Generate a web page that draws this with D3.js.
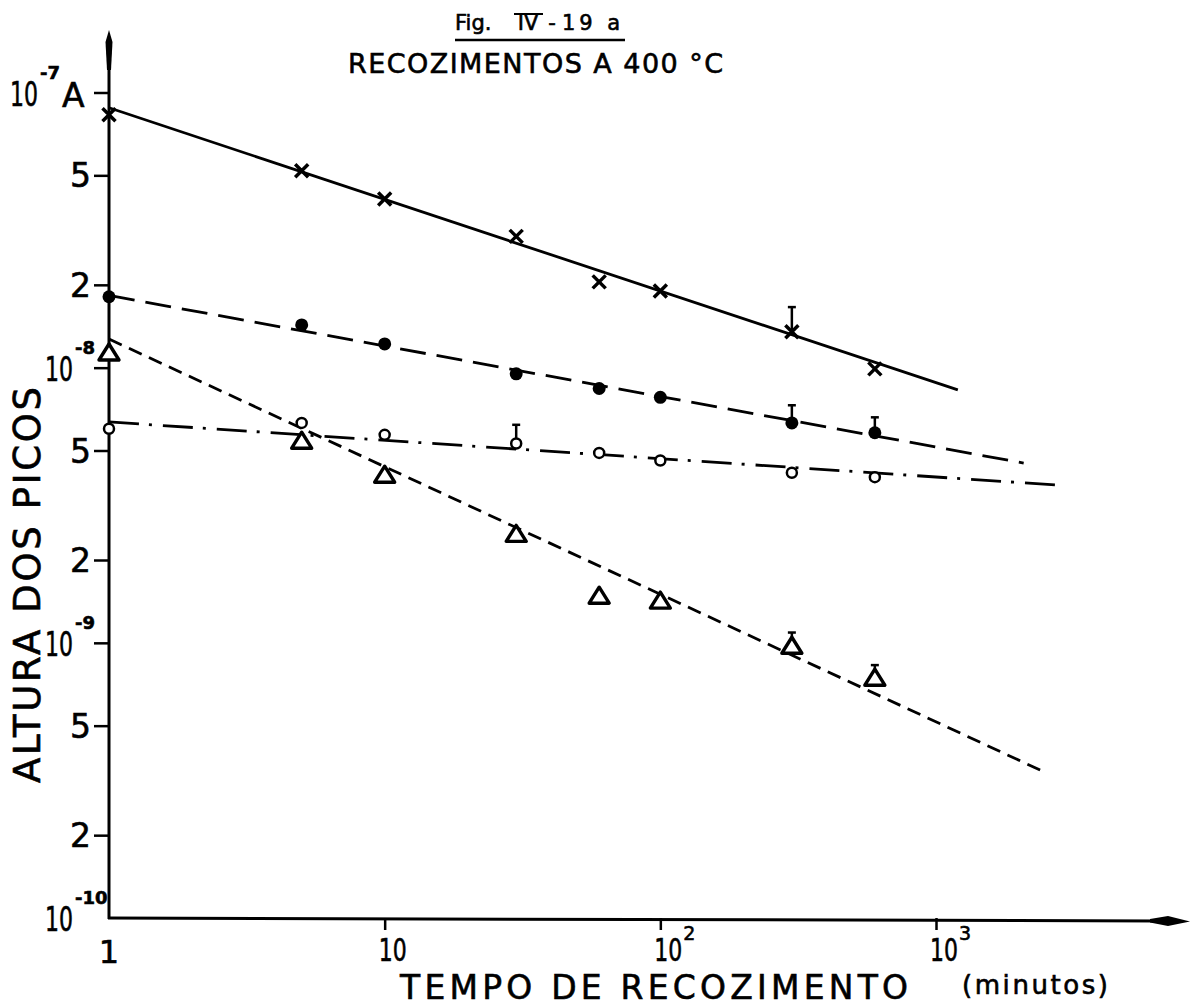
<!DOCTYPE html>
<html>
<head>
<meta charset="utf-8">
<script src="https://cdn.jsdelivr.net/npm/d3@7"></script>
<style>
  body { margin: 0; background: #fff; }
  svg { display: block; background: #fff; }
  text { font-family: "DejaVu Sans", sans-serif; fill: #000; stroke: #000; stroke-width: 0.6; }
</style>
</head>
<body>
<svg id="chart" width="1197" height="1006"></svg>
<script>
// Annealing time (minutes)
const times = [1, 5, 10, 30, 60, 100, 300, 600];

// Peak heights (A) for the four peaks
const crossValues    = [8.3e-8, 5.2e-8, 4.1e-8, 3.0e-8, 2.05e-8, 1.9e-8, 1.35e-8, 9.9e-9];
const dotValues      = [1.81e-8, 1.43e-8, 1.22e-8, 9.5e-9, 8.4e-9, 7.8e-9, 6.3e-9, 5.8e-9];
const circleValues   = [6.0e-9, 6.3e-9, 5.7e-9, 5.3e-9, 4.9e-9, 4.6e-9, 4.15e-9, 4.0e-9];
const triangleValues = [1.14e-8, 5.45e-9, 4.1e-9, 2.5e-9, 1.49e-9, 1.43e-9, 9.8e-10, 7.5e-10];

// Fitted straight lines (start and end points, time / height)
const crossFit    = [[1, 8.8e-8], [1200, 8.3e-9]];
const dotFit      = [[1, 1.83e-8], [2080, 4.5e-9]];
const circleFit   = [[1, 6.35e-9], [2800, 3.74e-9]];
const triangleFit = [[1, 1.27e-8], [2415, 3.43e-10]];

// Upper ends of the error bars (time, height)
const crossErr    = [[300, 1.66e-8]];
const dotErr      = [[300, 7.3e-9], [600, 6.6e-9]];
const circleErr   = [[30, 6.2e-9]];
const triangleErr = [[300, 1.09e-9], [600, 8.3e-10]];

// Axis ticks and labels
const yTicks     = [1e-7, 5e-8, 2e-8, 1e-8, 5e-9, 2e-9, 1e-9, 5e-10, 2e-10, 1e-10];
const yTickBase  = ["10", "5", "2", "10", "5", "2", "10", "5", "2", "10"];
const yTickSup   = ["-7", "", "", "-8", "", "", "-9", "", "", "-10"];
const yTickUnit  = ["A", "", "", "", "", "", "", "", "", ""];
const xTicks     = [1, 10, 100, 1000];
const xTickBase  = ["1", "10", "10", "10"];
const xTickSup   = ["", "", "2", "3"];

const svg = d3.select("#chart");
const x = d3.scaleLog().domain([1, 1000]).range([109, 936]);
const y = d3.scaleLog().domain([1e-10, 1e-7]).range([918, 92.5]);

const x0 = x(1), y0 = y(1e-10);

// ---- axes ----
svg.append("line").attr("x1", x0).attr("y1", y0 + 1).attr("x2", x0).attr("y2", 45)
  .attr("stroke", "#000").attr("stroke-width", 3);
svg.append("line").attr("x1", x0 - 1).attr("y1", y0).attr("x2", 1160).attr("y2", y0 + 3)
  .attr("stroke", "#000").attr("stroke-width", 3);
// arrow heads
svg.append("path")
  .attr("d", `M${x0},30 L${x0 + 3.5},42 L${x0 + 2},70 L${x0 - 2},70 L${x0 - 3.5},42 Z`)
  .attr("fill", "#000");
svg.append("path")
  .attr("d", `M1190,${y0 + 3.5} L1168,${y0 - 2} L1150,${y0 + 1} L1150,${y0 + 4.5} L1168,${y0 + 8} Z`)
  .attr("fill", "#000");

const yAxis = svg.append("g").attr("transform", `translate(${x0},0)`)
  .call(d3.axisLeft(y).tickValues(yTicks.slice(0, -1)).tickSize(15).tickFormat(""));
yAxis.select(".domain").remove();
yAxis.selectAll(".tick line").attr("stroke", "#000").attr("stroke-width", 2.5);

const xAxis = svg.append("g").attr("transform", `translate(0,${y0})`)
  .call(d3.axisBottom(x).tickValues(xTicks.slice(1)).tickSize(12).tickFormat(""));
xAxis.select(".domain").remove();
xAxis.selectAll(".tick line").attr("stroke", "#000").attr("stroke-width", 2.5);

// ---- y tick labels (powers of ten written with superscript exponents) ----
yTicks.forEach((v, i) => {
  const ty = y(v);
  if (yTickSup[i] === "") {
    svg.append("text").attr("x", 91).attr("y", ty + 12)
      .attr("text-anchor", "end").attr("font-size", 33).text(yTickBase[i]);
  } else {
    const bx = yTickUnit[i] ? 10 : 45;
    const t = svg.append("text").attr("x", bx).attr("y", ty + 13).attr("font-size", 33);
    t.append("tspan").attr("textLength", 28).attr("lengthAdjust", "spacingAndGlyphs")
      .text(yTickBase[i]);
    t.append("tspan").attr("dx", 2).attr("dy", -27).attr("font-size", 18)
      .attr("font-weight", "bold").text(yTickSup[i]);
    if (yTickUnit[i]) {
      t.append("tspan").attr("x", 62).attr("dy", 28).text(yTickUnit[i]);
    }
  }
});

// ---- x tick labels ----
xTicks.forEach((v, i) => {
  const tx = x(v);
  if (xTickBase[i] === "1") {
    svg.append("text").attr("x", tx).attr("y", 963).attr("text-anchor", "middle")
      .attr("font-size", 32).text(xTickBase[i]);
  } else {
    const t = svg.append("text").attr("x", tx - 6).attr("y", 961).attr("font-size", 32);
    t.append("tspan").attr("textLength", 28).attr("lengthAdjust", "spacingAndGlyphs")
      .text(xTickBase[i]);
    if (xTickSup[i]) {
      t.append("tspan").attr("dx", 1).attr("dy", -21).attr("font-size", 19).text(xTickSup[i]);
    }
  }
});

// ---- titles ----
svg.append("text").attr("x", 400).attr("y", 999).attr("font-size", 33)
  .attr("textLength", 508).text("TEMPO DE RECOZIMENTO");
svg.append("text").attr("x", 962).attr("y", 994).attr("font-size", 26)
  .attr("textLength", 146).text("(minutos)");
svg.append("text").attr("transform", "translate(40,783) rotate(-90)")
  .attr("font-size", 37).attr("textLength", 396).text("ALTURA DOS PICOS");

svg.append("text").attr("x", 455).attr("y", 30).attr("font-size", 21).text("Fig.");
svg.append("text").attr("x", 528).attr("y", 30).attr("font-size", 21).attr("text-anchor", "middle").text("IV");
svg.append("text").attr("x", 552).attr("y", 30).attr("font-size", 21).attr("text-anchor", "middle").text("-");
svg.append("text").attr("x", 562).attr("y", 30).attr("font-size", 21).attr("textLength", 58).text("19 a");
svg.append("line").attr("x1", 514).attr("x2", 543).attr("y1", 14).attr("y2", 14)
  .attr("stroke", "#000").attr("stroke-width", 2);
svg.append("line").attr("x1", 455).attr("x2", 625).attr("y1", 40).attr("y2", 40)
  .attr("stroke", "#000").attr("stroke-width", 2.5);
svg.append("text").attr("x", 348).attr("y", 73).attr("font-size", 27)
  .attr("textLength", 375).text("RECOZIMENTOS A 400 °C");

// ---- fitted lines ----
const line = d3.line().x(d => x(d[0])).y(d => y(d[1]));
const fits = [
  { data: crossFit, dash: null },
  { data: dotFit, dash: "26,11" },
  { data: circleFit, dash: "30,10,3,11" },
  { data: triangleFit, dash: "14,8" }
];
fits.forEach(f => {
  svg.append("path").attr("d", line(f.data)).attr("fill", "none")
    .attr("stroke", "#000").attr("stroke-width", 2.8)
    .attr("stroke-dasharray", f.dash);
});

// ---- error bars ----
function errorBars(list, values) {
  list.forEach(([t, top]) => {
    const v = values[times.indexOf(t)];
    const px = x(t);
    svg.append("line").attr("x1", px).attr("x2", px).attr("y1", y(v)).attr("y2", y(top))
      .attr("stroke", "#000").attr("stroke-width", 2.5);
    svg.append("line").attr("x1", px - 4).attr("x2", px + 4).attr("y1", y(top)).attr("y2", y(top))
      .attr("stroke", "#000").attr("stroke-width", 2.5);
  });
}
errorBars(crossErr, crossValues);
errorBars(dotErr, dotValues);
errorBars(circleErr, circleValues);
errorBars(triangleErr, triangleValues);

// ---- markers ----
const g = svg.append("g");
g.selectAll(".cross").data(times).join("path")
  .attr("d", (t, i) => {
    const cx = x(t), cy = y(crossValues[i]), s = 6.5;
    return `M${cx - s},${cy - s}L${cx + s},${cy + s}M${cx + s},${cy - s}L${cx - s},${cy + s}`;
  })
  .attr("stroke", "#000").attr("stroke-width", 3.5).attr("fill", "none");

g.selectAll(".dot").data(times).join("circle")
  .attr("cx", t => x(t)).attr("cy", (t, i) => y(dotValues[i])).attr("r", 6.5)
  .attr("fill", "#000");

g.selectAll(".ring").data(times).join("circle")
  .attr("cx", t => x(t)).attr("cy", (t, i) => y(circleValues[i])).attr("r", 5)
  .attr("fill", "#fff").attr("stroke", "#000").attr("stroke-width", 2.5);

g.selectAll(".tri").data(times).join("path")
  .attr("d", (t, i) => {
    const cx = x(t), cy = y(triangleValues[i]), w = 10, h = 8;
    return `M${cx},${cy - h}L${cx + w},${cy + h}L${cx - w},${cy + h}Z`;
  })
  .attr("fill", "#fff").attr("stroke", "#000").attr("stroke-width", 3.4)
  .attr("stroke-linejoin", "round");
</script>
</body>
</html>
